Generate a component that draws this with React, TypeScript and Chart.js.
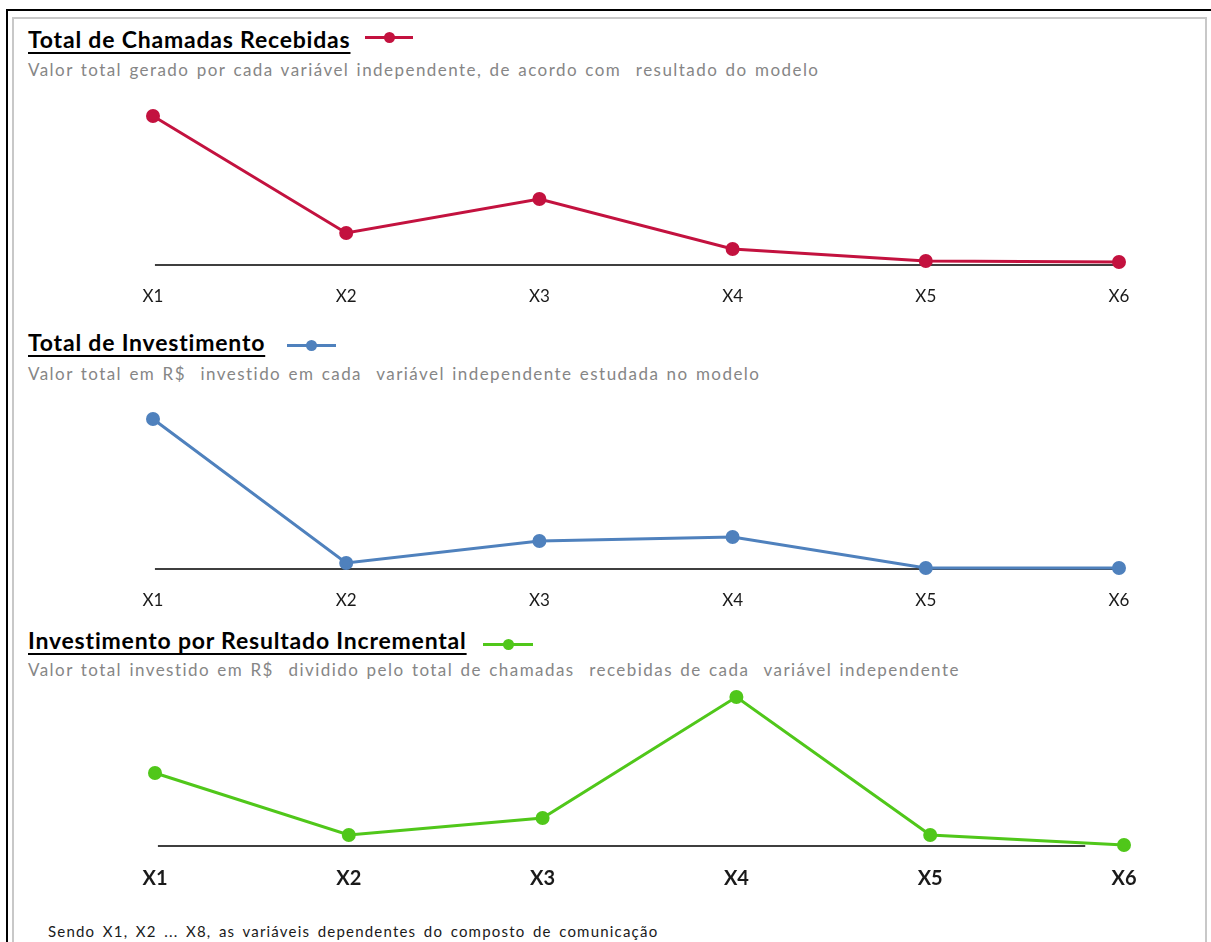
import React, { useEffect, useRef } from "react";
import { Chart, registerables } from "chart.js";

Chart.register(...registerables);

// Independent variables of the communication mix
const categories = ["X1", "X2", "X3", "X4", "X5", "X6"];

// Total calls received per variable (relative units)
const chamadasRecebidas = [100, 21.5, 44.3, 10.7, 2.7, 2.0];
// Total investment per variable (relative units)
const investimento = [100, 4.0, 18.7, 21.3, 0.7, 0.7];
// Investment divided by incremental result (relative units)
const investimentoPorResultado = [49.0, 7.4, 18.8, 100, 7.4, 0.7];

const FONT = "Lato, 'Open Sans', 'Liberation Sans', sans-serif";

// Horizontal zero line drawn beneath the series
const baselinePlugin = {
  id: "baseline",
  beforeDatasetsDraw(chart: any, _args: any, opts: any) {
    const { ctx, chartArea, scales } = chart;
    const y = Math.round(scales.y.getPixelForValue(0));
    const w = chartArea.right - chartArea.left;
    ctx.save();
    ctx.strokeStyle = opts.color || "#404040";
    ctx.lineWidth = opts.width || 2;
    ctx.beginPath();
    ctx.moveTo(chartArea.left + w * (opts.from ?? 0), y);
    ctx.lineTo(chartArea.left + w * (opts.to ?? 1), y);
    ctx.stroke();
    ctx.restore();
  },
};

type PanelProps = {
  top: number;
  height: number;
  padTop: number;
  padLeft: number;
  padRight: number;
  values: number[];
  color: string;
  labelSize: number;
  labelWeight: string;
  lineFrom: number;
  lineTo: number;
};

function LinePanel(p: PanelProps) {
  const ref = useRef<HTMLCanvasElement | null>(null);
  useEffect(() => {
    if (!ref.current) return;
    const chart = new Chart(ref.current, {
      type: "line",
      data: {
        labels: categories,
        datasets: [
          {
            data: p.values,
            borderColor: p.color,
            backgroundColor: p.color,
            borderWidth: 3,
            pointRadius: 5.5,
            pointHoverRadius: 5.5,
            pointBackgroundColor: p.color,
            pointBorderColor: p.color,
            tension: 0,
            clip: false as any,
          },
        ],
      },
      options: {
        animation: false,
        responsive: false,
        events: [],
        layout: {
          padding: { top: p.padTop, left: p.padLeft, right: p.padRight, bottom: 0 },
        },
        plugins: {
          legend: { display: false },
          tooltip: { enabled: false },
          baseline: { from: p.lineFrom, to: p.lineTo, color: "#3f3f3f", width: 2 },
        } as any,
        scales: {
          x: {
            type: "category",
            offset: false,
            grid: { display: false, drawTicks: false },
            border: { display: false },
            ticks: {
              color: "#1a1a1a",
              padding: 21,
              maxRotation: 0,
              autoSkip: false,
              font: { family: FONT, size: p.labelSize, weight: p.labelWeight as any },
            },
            afterFit: (scale: any) => {
              scale.height = 50;
            },
          },
          y: { display: false, min: 0, max: 100 },
        },
      },
      plugins: [baselinePlugin],
    });
    return () => chart.destroy();
  }, []);
  return (
    <canvas
      ref={ref}
      width={1192}
      height={p.height}
      style={{ position: "absolute", left: 13, top: p.top, width: 1192, height: p.height }}
    />
  );
}

function Title(props: { text: string; left: number; baseline: number }) {
  const fs = 23;
  return (
    <div
      style={{
        position: "absolute",
        left: props.left,
        top: props.baseline - 0.887 * fs,
        fontFamily: FONT,
        fontWeight: 700,
        fontSize: fs,
        lineHeight: `${fs}px`,
        color: "#000",
        whiteSpace: "pre",
        letterSpacing: 0.8,
        textDecoration: "underline",
        textDecorationThickness: "2px",
        textUnderlineOffset: "4px",
      }}
    >
      {props.text}
    </div>
  );
}

function Subtitle(props: { text: string; left: number; baseline: number }) {
  const fs = 17;
  return (
    <div
      style={{
        position: "absolute",
        left: props.left,
        top: props.baseline - 0.887 * fs,
        fontFamily: FONT,
        fontSize: fs,
        lineHeight: `${fs}px`,
        color: "#868686",
        whiteSpace: "pre",
        letterSpacing: 1.45,
        wordSpacing: 1.5,
      }}
    >
      {props.text}
    </div>
  );
}

function LegendMark(props: { left: number; y: number; width: number; color: string }) {
  return (
    <div style={{ position: "absolute", left: props.left, top: props.y - 6, width: props.width, height: 12 }}>
      <div
        style={{
          position: "absolute",
          left: 0,
          top: 4.5,
          width: props.width,
          height: 3,
          background: props.color,
        }}
      />
      <div
        style={{
          position: "absolute",
          left: props.width / 2 - 5.5,
          top: 0.5,
          width: 11,
          height: 11,
          borderRadius: "50%",
          background: props.color,
        }}
      />
    </div>
  );
}

const RED = "#c3123f";
const BLUE = "#4f81bd";
const GREEN = "#50c71a";

export default function App() {
  return (
    <div
      style={{
        position: "absolute",
        left: 0,
        top: 0,
        width: 1211,
        height: 942,
        overflow: "hidden",
        background: "#fff",
      }}
    >
      {/* outer frame */}
      <div style={{ position: "absolute", left: 6, top: 9, width: 1205, height: 2, background: "#000" }} />
      <div style={{ position: "absolute", left: 6, top: 9, width: 2, height: 933, background: "#000" }} />
      {/* inner frame */}
      <div
        style={{
          position: "absolute",
          left: 12,
          top: 17,
          width: 1191,
          height: 940,
          border: "2px solid #c8c8c8",
          borderBottom: "none",
        }}
      />

      <Title text="Total de Chamadas Recebidas" left={28} baseline={48} />
      <LegendMark left={365} y={37} width={48} color={RED} />
      <Subtitle
        text="Valor total gerado por cada variável independente, de acordo com  resultado do modelo"
        left={28}
        baseline={76}
      />
      <LinePanel
        top={95}
        height={220}
        padTop={21}
        padLeft={140}
        padRight={86}
        values={chamadasRecebidas}
        color={RED}
        labelSize={17}
        labelWeight="normal"
        lineFrom={0.002}
        lineTo={1}
      />

      <Title text="Total de Investimento" left={28} baseline={351} />
      <LegendMark left={287} y={345} width={49} color={BLUE} />
      <Subtitle
        text="Valor total em R$  investido em cada  variável independente estudada no modelo"
        left={28}
        baseline={380}
      />
      <LinePanel
        top={398}
        height={221}
        padTop={21}
        padLeft={140}
        padRight={86}
        values={investimento}
        color={BLUE}
        labelSize={17}
        labelWeight="normal"
        lineFrom={0.002}
        lineTo={1}
      />

      <Title text="Investimento por Resultado Incremental" left={28} baseline={649} />
      <LegendMark left={483} y={644} width={50} color={GREEN} />
      <Subtitle
        text="Valor total investido em R$  dividido pelo total de chamadas  recebidas de cada  variável independente"
        left={28}
        baseline={676}
      />
      <LinePanel
        top={676}
        height={220}
        padTop={21}
        padLeft={142}
        padRight={81}
        values={investimentoPorResultado}
        color={GREEN}
        labelSize={20}
        labelWeight="bold"
        lineFrom={0.003}
        lineTo={0.96}
      />

      <div
        style={{
          position: "absolute",
          left: 48,
          top: 937 - 0.887 * 15,
          fontFamily: FONT,
          fontSize: 15,
          lineHeight: "15px",
          color: "#1a1a1a",
          whiteSpace: "pre",
          letterSpacing: 1.2,
          wordSpacing: 2.5,
        }}
      >
        Sendo X1, X2 ... X8, as variáveis dependentes do composto de comunicação
      </div>
    </div>
  );
}
